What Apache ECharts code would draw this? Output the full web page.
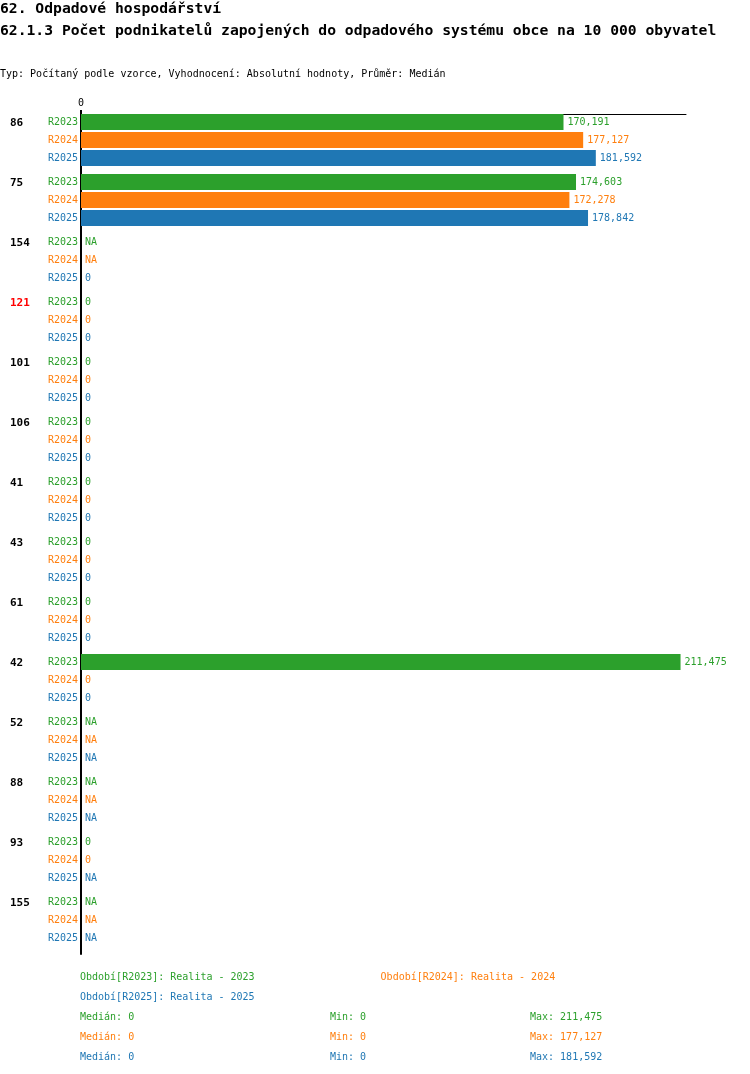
<!DOCTYPE html>
<html>
<head>
<meta charset="utf-8">
<title>62.1.3</title>
<script src="https://cdn.jsdelivr.net/npm/echarts@6/dist/echarts.min.js"></script>
<style>
  body { margin: 0; background: #fff; }
  #chart { width: 750px; height: 1074px; }
</style>
</head>
<body>
<div id="chart"></div>
<script>
// data (null = NA)
var groups = ['86', '75', '154', '121', '101', '106', '41', '43', '61', '42', '52', '88', '93', '155'];
var highlightGroup = '121';
var years = ['R2023', 'R2024', 'R2025'];
var values2023 = [170191, 174603, null, 0, 0, 0, 0, 0, 0, 211475, null, null, 0, null];
var values2024 = [177127, 172278, null, 0, 0, 0, 0, 0, 0, 0, null, null, 0, null];
var values2025 = [181592, 178842, 0, 0, 0, 0, 0, 0, 0, 0, null, null, null, null];
var xTicks = [0];
var xMax = 213400;

var colors = ['#2ca02c', '#ff7f0e', '#1f77b4'];
var mono = '"DejaVu Sans Mono", "Liberation Mono", monospace';
var allValues = [values2023, values2024, values2025];

function fmt(v) {
    return v.toLocaleString('en-US');
}

function stats(vals) {
    var v = vals.filter(function (x) { return x != null; }).sort(function (a, b) { return a - b; });
    var n = v.length;
    var med = n % 2 ? v[(n - 1) / 2] : (v[n / 2 - 1] + v[n / 2]) / 2;
    return { median: med, min: v[0], max: v[n - 1] };
}

function legendName(i) {
    return 'Období[' + years[i] + ']: Realita - ' + years[i].slice(1);
}

var series = [];
years.forEach(function (y, i) {
    var vals = allValues[i];
    // zero-width bar that only carries the year label left of the axis
    series.push({
        name: 'lab' + y,
        type: 'bar',
        stack: y,
        barWidth: 16,
        barGap: '12.5%',
        barCategoryGap: 0,
        silent: true,
        data: groups.map(function () { return 0; }),
        itemStyle: { color: colors[i] },
        label: {
            show: true, position: 'left', distance: 3,
            formatter: y, color: colors[i], fontSize: 10, fontFamily: mono
        }
    });
    series.push({
        name: legendName(i),
        type: 'bar',
        stack: y,
        barWidth: 16,
        barGap: '12.5%',
        barCategoryGap: 0,
        data: vals.map(function (v) { return v == null ? 0 : v; }),
        itemStyle: { color: colors[i] },
        label: {
            show: true, position: 'right', distance: 4,
            color: colors[i], fontSize: 10, fontFamily: mono,
            formatter: function (p) {
                var v = vals[p.dataIndex];
                return v == null ? 'NA' : fmt(v);
            }
        }
    });
});
// empty slot so the three bars sit at the top of each group
series.push({
    name: 'pad', type: 'bar', stack: 'pad', barWidth: 6, barGap: '12.5%', barCategoryGap: 0,
    silent: true, data: groups.map(function () { return null; })
});

// Medián / Min / Max lines under the legend
var graphics = [];
var statX = [80, 330, 530];
years.forEach(function (y, i) {
    var s = stats(allValues[i]);
    var texts = ['Medián: ' + fmt(s.median), 'Min: ' + fmt(s.min), 'Max: ' + fmt(s.max)];
    texts.forEach(function (t, j) {
        graphics.push({
            type: 'text', left: statX[j], top: 1012 + i * 20,
            style: { text: t, fill: colors[i], font: '10px ' + mono }
        });
    });
});

var myChart = echarts.init(document.getElementById('chart'));
var option = {
    animation: false,
    title: [
        { text: '62. Odpadové hospodářství', left: 0, top: 2, padding: 0,
          textStyle: { fontSize: 14.7, fontWeight: 'bold', fontFamily: mono, color: '#000' } },
        { text: '62.1.3 Počet podnikatelů zapojených do odpadového systému obce na 10 000 obyvatel', left: 0, top: 24, padding: 0,
          textStyle: { fontSize: 14.7, fontWeight: 'bold', fontFamily: mono, color: '#000' } },
        { text: 'Typ: Počítaný podle vzorce, Vyhodnocení: Absolutní hodnoty, Průměr: Medián', left: 0, top: 69, padding: 0,
          textStyle: { fontSize: 10, fontWeight: 'normal', fontFamily: mono, color: '#000' } }
    ],
    legend: [
        { left: 70, top: 965, itemWidth: 0, itemHeight: 14, itemGap: 121, icon: 'none', selectedMode: false,
          textStyle: { fontSize: 10, fontFamily: mono },
          data: [
              { name: legendName(0), textStyle: { color: colors[0] } },
              { name: legendName(1), textStyle: { color: colors[1] } }
          ] },
        { left: 70, top: 985, itemWidth: 0, itemHeight: 14, icon: 'none', selectedMode: false,
          textStyle: { fontSize: 10, fontFamily: mono },
          data: [{ name: legendName(2), textStyle: { color: colors[2] } }] }
    ],
    grid: { left: 81, right: 64, top: 114, height: 840, outerBoundsMode: 'none' },
    xAxis: {
        type: 'value', position: 'top', min: 0, max: xMax,
        splitLine: { show: false },
        axisLine: { show: true, lineStyle: { color: '#000', width: 1 } },
        axisTick: { show: true, length: 4, customValues: xTicks, lineStyle: { color: '#000', width: 2 } },
        axisLabel: { customValues: xTicks, margin: 6, fontSize: 10, fontFamily: mono, color: '#000' }
    },
    yAxis: {
        type: 'category', inverse: true, data: groups,
        axisLine: { show: true, lineStyle: { color: '#000', width: 2 } },
        axisTick: { show: false },
        axisLabel: {
            align: 'left', margin: 71, padding: [0, 0, 42, 0],
            formatter: function (g) { return g === highlightGroup ? '{r|' + g + '}' : '{b|' + g + '}'; },
            rich: {
                b: { fontSize: 11, fontWeight: 'bold', fontFamily: mono, color: '#000' },
                r: { fontSize: 11, fontWeight: 'bold', fontFamily: mono, color: '#ff0000' }
            }
        }
    },
    graphic: graphics,
    series: series
};
myChart.setOption(option);
</script>
</body>
</html>
